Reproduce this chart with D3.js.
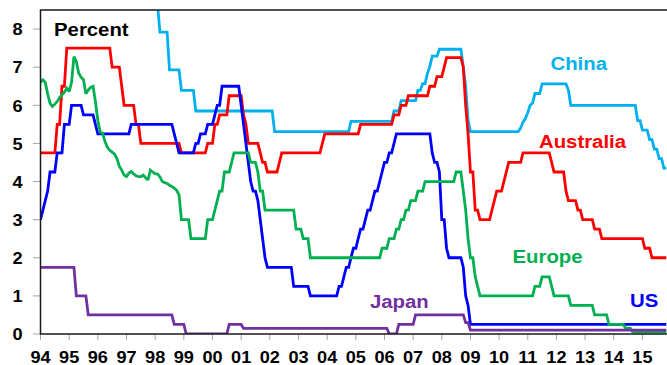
<!DOCTYPE html>
<html>
<head>
<meta charset="utf-8">
<script src="https://cdn.jsdelivr.net/npm/d3@7/dist/d3.min.js"></script>
<style>
  html, body { margin: 0; padding: 0; background: #fff; }
  svg { display: block; }
  text { font-family: Arial, "Liberation Sans", sans-serif; font-weight: bold; }
</style>
</head>
<body>
<svg id="chart" width="667" height="365"></svg>
<script>
// Official policy rates, monthly, Jan 1994 – Nov 2015.
// Step series are given as change points ["YYYY-MM", rate]; the rate holds until the next change.
const lastMonth = "2015-11";

const usRates = [
  ["1994-01", 3.0], ["1994-02", 3.25], ["1994-03", 3.5], ["1994-04", 3.75], ["1994-05", 4.25],
  ["1994-08", 4.75], ["1994-11", 5.5], ["1995-02", 6.0], ["1995-07", 5.75], ["1995-12", 5.5],
  ["1996-01", 5.25], ["1997-03", 5.5], ["1998-09", 5.25], ["1998-10", 5.0], ["1998-11", 4.75],
  ["1999-06", 5.0], ["1999-08", 5.25], ["1999-11", 5.5], ["2000-02", 5.75], ["2000-03", 6.0],
  ["2000-05", 6.5], ["2001-01", 6.0], ["2001-02", 5.5], ["2001-03", 5.0], ["2001-04", 4.5],
  ["2001-05", 4.0], ["2001-06", 3.75], ["2001-08", 3.5], ["2001-09", 3.0], ["2001-10", 2.5],
  ["2001-11", 2.0], ["2001-12", 1.75], ["2002-11", 1.25], ["2003-06", 1.0], ["2004-06", 1.25],
  ["2004-08", 1.5], ["2004-09", 1.75], ["2004-11", 2.0], ["2004-12", 2.25], ["2005-02", 2.5],
  ["2005-03", 2.75], ["2005-05", 3.0], ["2005-06", 3.25], ["2005-08", 3.5], ["2005-09", 3.75],
  ["2005-11", 4.0], ["2005-12", 4.25], ["2006-01", 4.5], ["2006-03", 4.75], ["2006-05", 5.0],
  ["2006-06", 5.25], ["2007-09", 4.75], ["2007-10", 4.5], ["2007-12", 4.25], ["2008-01", 3.0],
  ["2008-03", 2.25], ["2008-04", 2.0], ["2008-10", 1.75], ["2008-11", 1.0], ["2008-12", 0.75],
  ["2009-01", 0.25]
];

const australiaRates = [
  ["1994-01", 4.75], ["1994-08", 5.5], ["1994-10", 6.5], ["1994-12", 7.5], ["1996-07", 7.0],
  ["1996-11", 6.5], ["1996-12", 6.0], ["1997-05", 5.5], ["1997-07", 5.0], ["1998-12", 4.75],
  ["1999-11", 5.0], ["2000-02", 5.5], ["2000-04", 5.75], ["2000-08", 6.25], ["2001-02", 5.75],
  ["2001-03", 5.5], ["2001-04", 5.0], ["2001-09", 4.75], ["2001-10", 4.5], ["2001-12", 4.25],
  ["2002-05", 4.5], ["2002-06", 4.75], ["2003-11", 5.0], ["2003-12", 5.25], ["2005-03", 5.5],
  ["2006-05", 5.75], ["2006-08", 6.0], ["2006-11", 6.25], ["2007-08", 6.5], ["2007-11", 6.75],
  ["2008-02", 7.0], ["2008-03", 7.25], ["2008-10", 7.0], ["2008-11", 6.0], ["2008-12", 5.25],
  ["2009-01", 4.25], ["2009-03", 3.25], ["2009-05", 3.0], ["2009-10", 3.25], ["2009-11", 3.5],
  ["2009-12", 3.75], ["2010-03", 4.0], ["2010-04", 4.25], ["2010-05", 4.5], ["2010-11", 4.75],
  ["2011-11", 4.5], ["2011-12", 4.25], ["2012-05", 3.75], ["2012-06", 3.5], ["2012-10", 3.25],
  ["2012-12", 3.0], ["2013-05", 2.75], ["2013-08", 2.5], ["2015-02", 2.25], ["2015-05", 2.0]
];

const chinaRates = [
  ["1994-01", 10.98], ["1995-07", 12.06], ["1996-05", 10.98], ["1996-08", 10.08], ["1997-10", 8.64],
  ["1998-03", 7.92], ["1998-07", 6.93], ["1998-12", 6.39], ["1999-06", 5.85], ["2002-03", 5.31],
  ["2004-11", 5.58], ["2006-05", 5.85], ["2006-08", 6.12], ["2007-03", 6.39], ["2007-05", 6.57],
  ["2007-07", 6.84], ["2007-08", 7.02], ["2007-09", 7.29], ["2007-12", 7.47], ["2008-10", 7.0],
  ["2008-11", 6.5], ["2008-12", 5.6], ["2009-01", 5.31], ["2010-10", 5.4], ["2010-11", 5.56],
  ["2010-12", 5.65], ["2011-01", 5.81], ["2011-02", 6.0], ["2011-03", 6.06], ["2011-04", 6.31],
  ["2011-07", 6.56], ["2012-06", 6.4], ["2012-07", 6.0], ["2014-11", 5.6], ["2015-01", 5.35],
  ["2015-04", 5.1], ["2015-06", 4.85], ["2015-08", 4.6], ["2015-10", 4.35]
];

const japanRates = [
  ["1994-01", 1.75], ["1995-04", 1.0], ["1995-09", 0.5], ["1998-09", 0.25], ["1999-02", 0.0],
  ["2000-08", 0.25], ["2001-02", 0.15], ["2006-03", 0.0], ["2006-07", 0.25], ["2007-02", 0.5],
  ["2008-11", 0.3], ["2009-01", 0.1]
];

// Euro area: weighted average of national rates Jan 1994 – Dec 1998 (one value per month)
const europePre1999 = [
  6.6, 6.67, 6.6, 6.3, 6.05, 5.97, 6.03, 6.1, 6.2, 6.28, 6.34, 6.45,
  6.36, 6.6, 7.28, 7.15, 6.84, 6.74, 6.67, 6.3, 6.4, 6.47, 6.5, 6.1,
  5.6, 5.3, 5.27, 5.05, 4.9, 4.82, 4.77, 4.72, 4.6, 4.4, 4.3, 4.17,
  4.13, 4.22, 4.26, 4.2, 4.15, 4.13, 4.13, 4.17, 4.1, 4.04, 4.3, 4.25,
  4.2, 4.2, 4.12, 4.0, 3.97, 3.95, 3.9, 3.87, 3.83, 3.77, 3.65, 3.0
];
// ECB main refinancing rate from Jan 1999
const ecbRates = [
  ["1999-01", 3.0], ["1999-04", 2.5], ["1999-11", 3.0], ["2000-02", 3.25], ["2000-03", 3.5],
  ["2000-04", 3.75], ["2000-06", 4.25], ["2000-09", 4.5], ["2000-10", 4.75], ["2001-05", 4.5],
  ["2001-08", 4.25], ["2001-09", 3.75], ["2001-11", 3.25], ["2002-12", 2.75], ["2003-03", 2.5],
  ["2003-06", 2.0], ["2005-12", 2.25], ["2006-03", 2.5], ["2006-06", 2.75], ["2006-08", 3.0],
  ["2006-10", 3.25], ["2006-12", 3.5], ["2007-03", 3.75], ["2007-06", 4.0], ["2008-07", 4.25],
  ["2008-10", 3.75], ["2008-11", 3.25], ["2008-12", 2.5], ["2009-01", 2.0], ["2009-03", 1.5],
  ["2009-04", 1.25], ["2009-05", 1.0], ["2011-04", 1.25], ["2011-07", 1.5], ["2011-11", 1.25],
  ["2011-12", 1.0], ["2012-07", 0.75], ["2013-05", 0.5], ["2013-11", 0.25], ["2014-06", 0.15],
  ["2014-09", 0.05]
];

const yTicks = [0, 1, 2, 3, 4, 5, 6, 7, 8];
const yearTicks = d3.range(1994, 2016);
const yearLabel = y => String(y % 100).padStart(2, "0");

// ---- helpers ----
const monthIndex = s => { const [y, m] = s.split("-").map(Number); return (y - 1994) * 12 + (m - 1); };
const endIndex = monthIndex(lastMonth);

function monthly(changes) {
  const pts = changes.map(([d, v]) => [monthIndex(d), v]).sort((a, b) => a[0] - b[0]);
  const out = [];
  let k = 0, cur = pts[0][1];
  for (let m = pts[0][0]; m <= endIndex; m++) {
    while (k < pts.length && pts[k][0] <= m) { cur = pts[k][1]; k++; }
    out.push({ t: 1994 + m / 12, v: cur });
  }
  return out;
}

const europeChanges = europePre1999.map((v, i) => [
  `${1994 + Math.floor(i / 12)}-${String(i % 12 + 1).padStart(2, "0")}`, v
]).concat(ecbRates);

const series = [
  { name: "China",     color: "#00B0F0", data: monthly(chinaRates),     label: [550.5, 70] },
  { name: "Australia", color: "#FF0000", data: monthly(australiaRates), label: [539, 148.3] },
  { name: "US",        color: "#0000FF", data: monthly(usRates),        label: [630, 306.5] },
  { name: "Europe",    color: "#00B050", data: monthly(europeChanges),  label: [512.5, 263.3] },
  { name: "Japan",     color: "#7030A0", data: monthly(japanRates),     label: [370, 308.3] }
];

// ---- layout ----
const plot = { left: 40.5, right: 667, top: 10, bottom: 334 };
const x = d3.scaleLinear().domain([1994, 1994 + 262.2 / 12]).range([plot.left, 666.8]);
const y = d3.scaleLinear().domain([0, 8.5]).range([plot.bottom, plot.top]);
const stretch = 1.1;

const svg = d3.select("#chart");

function label(g, text, px, py, size, color, anchor) {
  return g.append("text")
    .attr("transform", `translate(${px},${py}) scale(${stretch},1)`)
    .attr("text-anchor", anchor || "start")
    .attr("font-size", size)
    .attr("fill", color)
    .text(text);
}

svg.append("defs").append("clipPath").attr("id", "plotClip")
  .append("rect")
  .attr("x", plot.left).attr("y", plot.top)
  .attr("width", plot.right - plot.left).attr("height", plot.bottom - plot.top);

// y axis ticks and labels
const yAxis = svg.append("g");
yAxis.selectAll("line").data(yTicks).join("line")
  .attr("x1", 33).attr("x2", plot.left)
  .attr("y1", d => y(d)).attr("y2", d => y(d))
  .attr("stroke", "#a6a6a6").attr("stroke-width", 1);
yTicks.forEach(d => label(yAxis, d, 22.5, y(d) + 6.3, 16.5, "#000", "end"));

// x axis ticks and labels
const xAxis = svg.append("g");
xAxis.selectAll("line").data(yearTicks).join("line")
  .attr("x1", d => x(d)).attr("x2", d => x(d))
  .attr("y1", plot.bottom).attr("y2", plot.bottom + 6)
  .attr("stroke", "#a6a6a6").attr("stroke-width", 1);
yearTicks.forEach(d => label(xAxis, yearLabel(d), x(d), 362.5, 16.5, "#000", "middle"));

// series lines
const line = d3.line().x(d => x(d.t)).y(d => y(d.v));
const lines = svg.append("g").attr("clip-path", "url(#plotClip)");
series.forEach(s => {
  lines.append("path")
    .datum(s.data)
    .attr("d", line)
    .attr("fill", "none")
    .attr("stroke", s.color)
    .attr("stroke-width", 2.8)
    .attr("stroke-linejoin", "miter")
    .attr("stroke-miterlimit", 2);
});

// frame
svg.append("path")
  .attr("d", `M${plot.right},${plot.top}H${plot.left}V${plot.bottom}H${plot.right}`)
  .attr("fill", "none").attr("stroke", "#1a1a1a").attr("stroke-width", 1.5);

// labels
const labels = svg.append("g");
label(labels, "Percent", 54, 36, 18.5, "#000");
series.forEach(s => label(labels, s.name, s.label[0], s.label[1], 18.5, s.color));
</script>
</body>
</html>
